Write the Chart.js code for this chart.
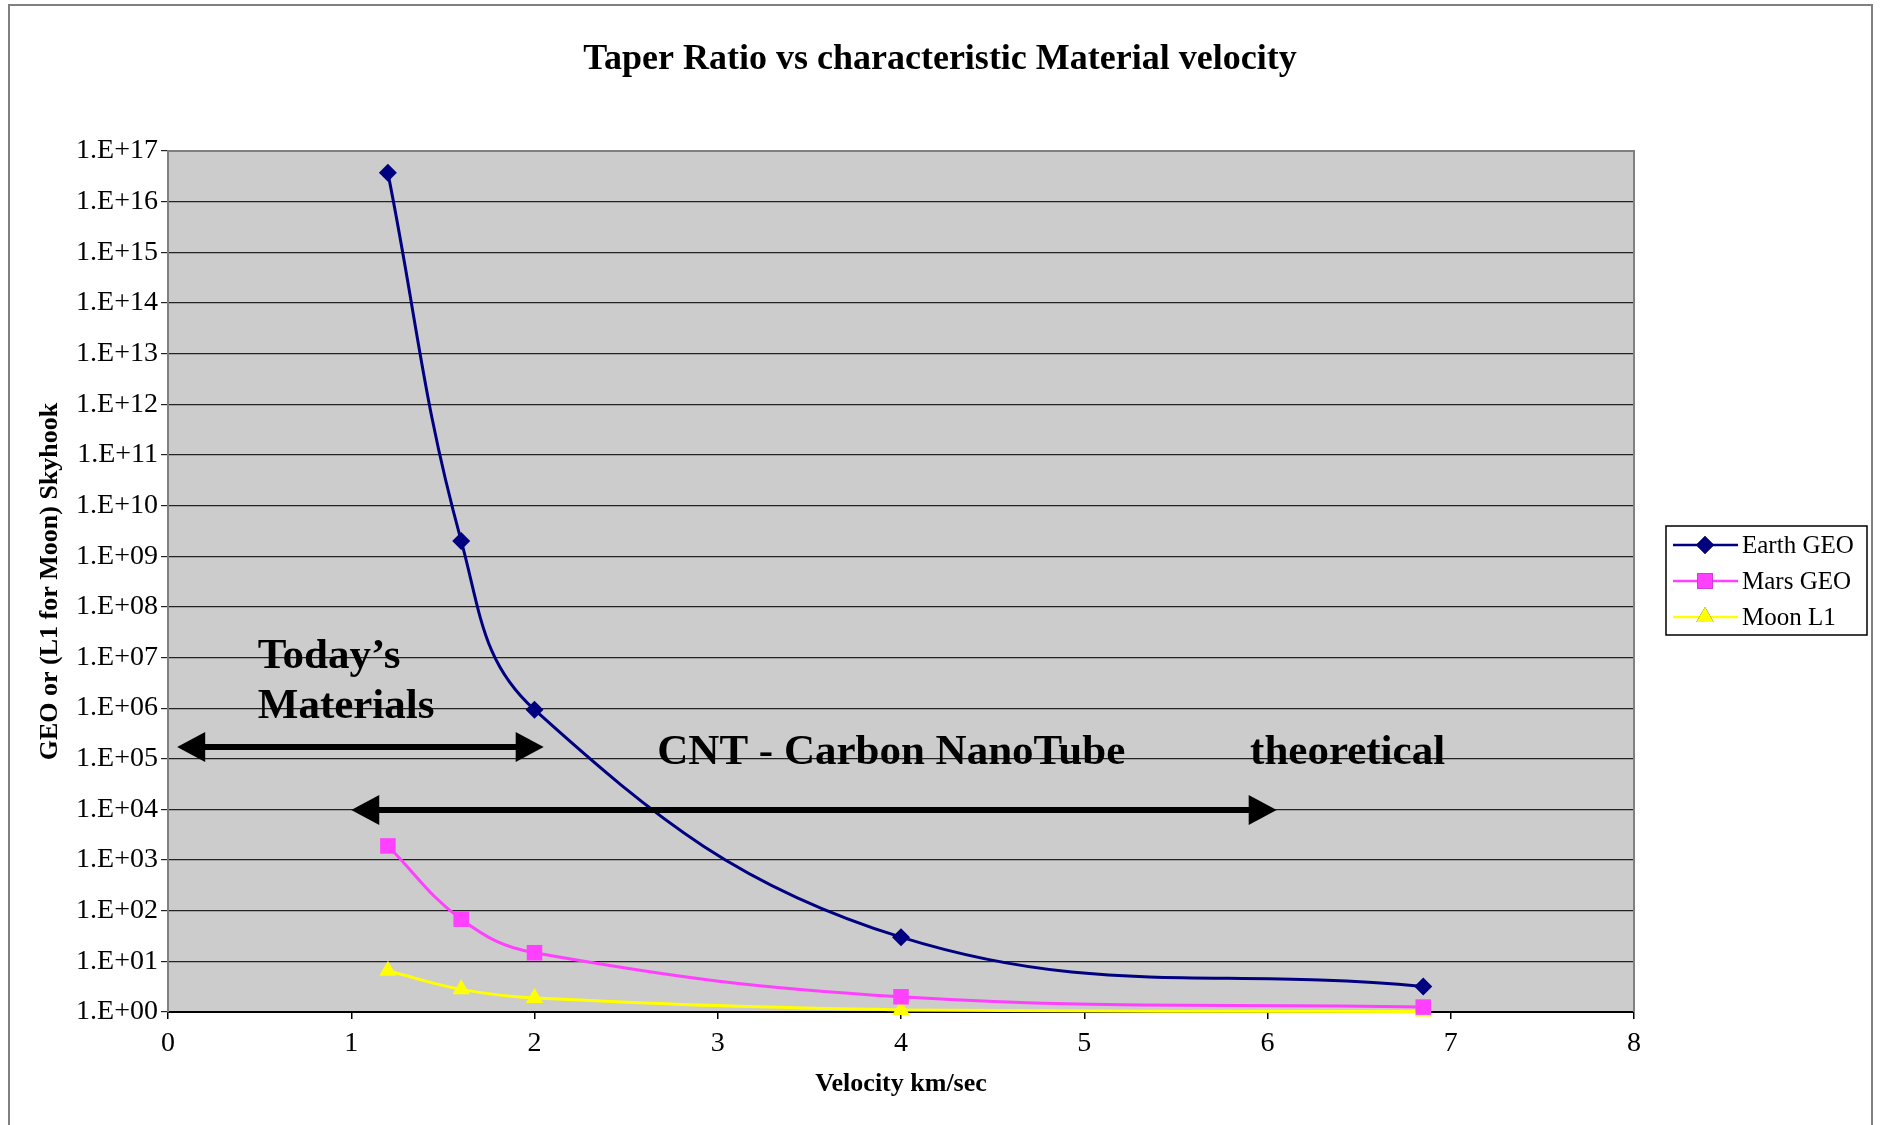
<!DOCTYPE html>
<html lang="en">
<head>
  <meta charset="UTF-8">
  <title>Taper Ratio vs characteristic Material velocity</title>
  <script src="https://cdn.jsdelivr.net/npm/chart.js"></script>
  <style>
    html, body { margin: 0; padding: 0; background: #fff; }
  </style>
</head>
<body>
  <canvas id="taperChart" width="1881" height="1125"></canvas>

  <script>
    // data
    const velocities = [1.2, 1.6, 2, 4, 6.85];
    const earthGeo = [3.7e16, 2.0e9, 9.3e5, 30, 3.2];
    const marsGeo = [1900, 68, 14.8, 2.0, 1.25];
    const moonL1 = [6.5, 2.8, 1.9, 1.1, 1.02];

    const xTickValues = [0, 1, 2, 3, 4, 5, 6, 7, 8];
    const yTickValues = [1, 1e1, 1e2, 1e3, 1e4, 1e5, 1e6, 1e7, 1e8, 1e9,
      1e10, 1e11, 1e12, 1e13, 1e14, 1e15, 1e16, 1e17];
    const yTickLabels = ['1.E+00', '1.E+01', '1.E+02', '1.E+03', '1.E+04', '1.E+05',
      '1.E+06', '1.E+07', '1.E+08', '1.E+09', '1.E+10', '1.E+11', '1.E+12',
      '1.E+13', '1.E+14', '1.E+15', '1.E+16', '1.E+17'];

    const SERIF = '"Liberation Serif", "Times New Roman", serif';

    // text and arrows placed on the plot, in data units
    const arrows = [
      { from: 0.05, to: 2.05, y: 1.7e5 },
      { from: 1.0, to: 6.05, y: 9.7e3 }
    ];
    const notes = [
      { text: 'Today\u2019s', x: 0.49, y: 1.05e7 },
      { text: 'Materials', x: 0.49, y: 1.05e6 },
      { text: 'CNT - Carbon NanoTube', x: 2.67, y: 1.3e5 },
      { text: 'theoretical', x: 5.905, y: 1.3e5 }
    ];

    const toPoints = vals => velocities.map((v, i) => ({ x: v, y: vals[i] }));

    const framePlugin = {
      id: 'frame',
      beforeDraw(chart) {
        const { ctx, chartArea: a } = chart;
        ctx.save();
        ctx.fillStyle = '#fff';
        ctx.fillRect(0, 0, chart.width, chart.height);
        ctx.strokeStyle = '#808080';
        ctx.lineWidth = 2;
        ctx.strokeRect(9, 5, 1863, 1140);
        ctx.fillStyle = '#cccccc';
        ctx.fillRect(a.left, a.top, a.right - a.left, a.bottom - a.top);
        ctx.restore();
      },
      beforeDatasetsDraw(chart) {
        const { ctx, chartArea: a } = chart;
        ctx.save();
        ctx.strokeStyle = '#808080';
        ctx.lineWidth = 2;
        ctx.beginPath();
        ctx.moveTo(a.left, a.top);
        ctx.lineTo(a.right, a.top);
        ctx.lineTo(a.right, a.bottom);
        ctx.stroke();
        ctx.restore();
      },
      afterDraw(chart) {
        const { ctx } = chart;
        ctx.save();
        // title
        ctx.fillStyle = '#000';
        ctx.font = 'bold 36px ' + SERIF;
        ctx.textAlign = 'center';
        ctx.textBaseline = 'middle';
        ctx.fillText('Taper Ratio vs characteristic Material velocity', 940, 60);

        // legend
        const lx = 1666, ly = 526, lw = 201, lh = 109;
        ctx.strokeStyle = '#000';
        ctx.lineWidth = 1.5;
        ctx.strokeRect(lx, ly, lw, lh);
        ctx.font = '25px ' + SERIF;
        ctx.textAlign = 'left';
        chart.data.datasets.forEach((ds, i) => {
          const cy = ly + 19 + i * 36;
          ctx.strokeStyle = ds.borderColor;
          ctx.lineWidth = 2.5;
          ctx.beginPath();
          ctx.moveTo(lx + 7, cy);
          ctx.lineTo(lx + 72, cy);
          ctx.stroke();
          Chart.helpers.drawPoint(ctx, {
            pointStyle: ds.pointStyle, radius: ds.pointRadius, rotation: 0, borderWidth: 0
          }, lx + 39, cy);
          ctx.fillStyle = ds.backgroundColor;
          ctx.fill();
          ctx.fillStyle = '#000';
          ctx.fillText(ds.label, lx + 76, cy + 1);
        });
        ctx.restore();
      },
      afterDatasetsDraw(chart) {
        const { ctx, scales: { x, y } } = chart;
        ctx.save();
        ctx.fillStyle = '#000';
        ctx.strokeStyle = '#000';
        arrows.forEach(ar => {
          const x1 = x.getPixelForValue(ar.from);
          const x2 = x.getPixelForValue(ar.to);
          const yy = y.getPixelForValue(ar.y);
          const head = 28, half = 15;
          ctx.lineWidth = 6;
          ctx.beginPath();
          ctx.moveTo(x1 + head - 2, yy);
          ctx.lineTo(x2 - head + 2, yy);
          ctx.stroke();
          ctx.beginPath();
          ctx.moveTo(x1, yy);
          ctx.lineTo(x1 + head, yy - half);
          ctx.lineTo(x1 + head, yy + half);
          ctx.closePath();
          ctx.fill();
          ctx.beginPath();
          ctx.moveTo(x2, yy);
          ctx.lineTo(x2 - head, yy - half);
          ctx.lineTo(x2 - head, yy + half);
          ctx.closePath();
          ctx.fill();
        });
        ctx.font = 'bold 43px ' + SERIF;
        ctx.textAlign = 'left';
        ctx.textBaseline = 'middle';
        notes.forEach(n => {
          ctx.fillText(n.text, x.getPixelForValue(n.x), y.getPixelForValue(n.y));
        });
        ctx.restore();
      }
    };

    const ctx = document.getElementById('taperChart').getContext('2d');
    new Chart(ctx, {
      type: 'line',
      data: {
        datasets: [
          {
            label: 'Earth GEO',
            data: toPoints(earthGeo),
            borderColor: '#000080',
            backgroundColor: '#000080',
            pointStyle: 'rectRot',
            pointRadius: 9
          },
          {
            label: 'Mars GEO',
            data: toPoints(marsGeo),
            borderColor: '#ff40ff',
            backgroundColor: '#ff40ff',
            pointStyle: 'rect',
            pointRadius: 11
          },
          {
            label: 'Moon L1',
            data: toPoints(moonL1),
            borderColor: '#ffff00',
            backgroundColor: '#ffff00',
            pointStyle: 'triangle',
            pointRadius: 10
          }
        ]
      },
      options: {
        responsive: false,
        animation: false,
        devicePixelRatio: 1,
        layout: { padding: { top: 151, left: 30, right: 247, bottom: 0 } },
        elements: {
          line: { borderWidth: 3, tension: 0.4 },
          point: { borderWidth: 0, hoverRadius: 9 }
        },
        datasets: { line: { clip: false } },
        plugins: {
          legend: { display: false },
          title: { display: false },
          tooltip: { enabled: false }
        },
        scales: {
          x: {
            type: 'linear',
            min: 0,
            max: 8,
            afterBuildTicks: s => { s.ticks = xTickValues.map(v => ({ value: v })); },
            afterFit: s => { s.height = 113; },
            grid: { drawOnChartArea: false, drawTicks: true, tickLength: 7, color: '#000', lineWidth: 1.5 },
            border: { color: '#000', width: 2 },
            ticks: { color: '#000', font: { family: SERIF, size: 28 }, padding: 8, maxRotation: 0 },
            title: {
              display: true,
              text: 'Velocity km/sec',
              color: '#000',
              font: { family: SERIF, size: 26, weight: 'bold' },
              padding: { top: 0, bottom: 25 }
            }
          },
          y: {
            type: 'logarithmic',
            min: 1,
            max: 1e17,
            afterBuildTicks: s => { s.ticks = yTickValues.map(v => ({ value: v })); },
            afterFit: s => { s.width = 138; },
            grid: { color: '#222', lineWidth: 1.2, drawTicks: true, tickLength: 7 },
            border: { color: '#808080', width: 2 },
            ticks: {
              color: '#000',
              font: { family: SERIF, size: 28 },
              padding: 3,
              callback: v => yTickLabels[yTickValues.indexOf(v)]
            },
            title: {
              display: true,
              text: 'GEO or (L1 for Moon) Skyhook',
              color: '#000',
              font: { family: SERIF, size: 26, weight: 'bold' },
              padding: { top: 5, bottom: 0 }
            }
          }
        }
      },
      plugins: [framePlugin]
    });
  </script>
</body>
</html>
